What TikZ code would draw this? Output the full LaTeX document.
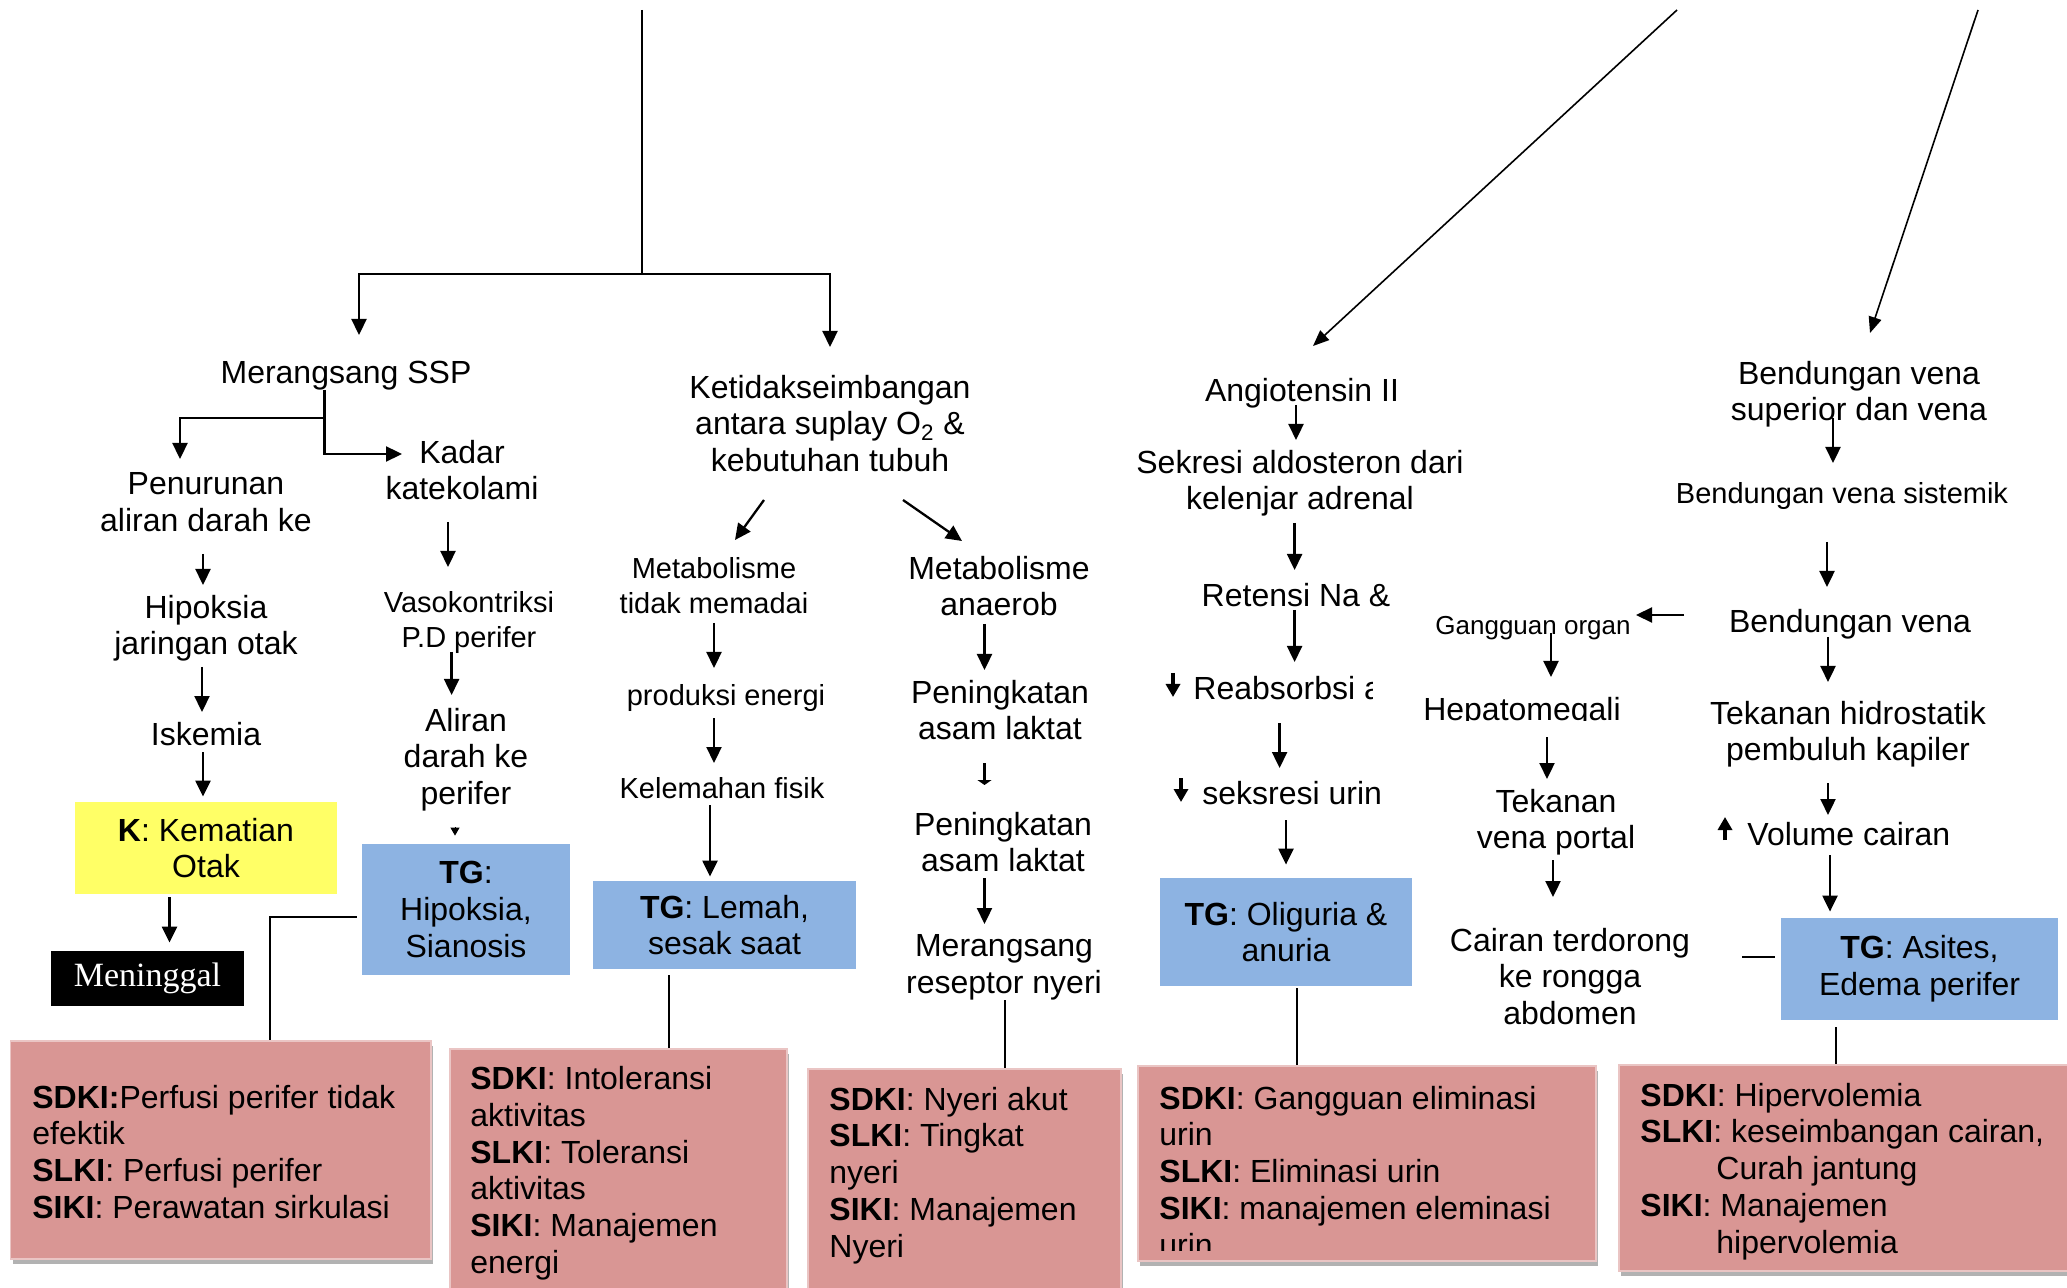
\documentclass[tikz,border=0pt]{standalone}
\usepackage{fontspec}
\setmainfont{Liberation Sans}
\newfontfamily\menfont{Liberation Serif}
\usetikzlibrary{arrows.meta,calc,shadows}
\definecolor{kyellow}{HTML}{FFFF66}
\definecolor{tgblue}{HTML}{8DB3E2}
\definecolor{sdpink}{HTML}{D99694}
\newcommand{\fmain}{\fontsize{16pt}{18.4pt}\selectfont}
\newcommand{\fsmall}{\fontsize{14.5pt}{17.5pt}\selectfont}
\newcommand{\ftiny}{\fontsize{13pt}{15pt}\selectfont}
\begin{document}
\begin{tikzpicture}[x=0.5pt,y=-0.5pt,
  txt/.style={font=\fmain, align=center, inner sep=0pt, anchor=north},
  stxt/.style={font=\fsmall, align=center, inner sep=0pt, anchor=north},
  ttxt/.style={font=\ftiny, align=center, inner sep=0pt, anchor=north},
  tgbox/.style={fill=tgblue, inner sep=0pt, font=\fmain, align=center},
  kboxst/.style={fill=kyellow, inner sep=0pt, font=\fmain, align=center, minimum width=131pt, minimum height=46pt},
  menbox/.style={fill=black, text=white, inner sep=0pt, font={\menfont\fontsize{17pt}{19pt}\selectfont}, minimum width=96.5pt, minimum height=27.5pt},
  sdbox/.style={fill=sdpink, draw=sdpink!55!white, line width=0.6pt, inner sep=0pt,
     drop shadow={shadow xshift=1pt, shadow yshift=-2.5pt, fill=black, opacity=0.3}},
  sdtxt/.style={font=\fmain, align=left, inner sep=0pt, anchor=north west},
  arr/.style={line width=1.15pt, -{Triangle[length=8pt,width=7.5pt]}},
  darr/.style={line width=0.8pt, -{Triangle[length=8pt,width=6.5pt]}},
  tinyarr/.style={line width=0.5pt, -{Triangle[length=4pt,width=4.5pt]}},
  stubarr/.style={line width=1.15pt, -{Triangle[length=2.5pt,width=7pt]}},
  glyph/.style={line width=1.6pt, -{Triangle[length=6.5pt,width=7pt]}},
  ln/.style={line width=0.7pt},
  ln2/.style={line width=0.8pt}
]
\useasboundingbox (0,0) rectangle (2067,1288);
\fill[white] (0,0) rectangle (2067,1288);

% ---------- Column 1 ----------
\node[txt] (ssp) at (346,360.5) {Merangsang SSP};
\node[txt] (kadar) at (462,439.5) {Kadar\\katekolami};
\node[txt] (penurunan) at (206,472.5) {Penurunan\\aliran darah ke};
\node[txt] (hipoksia) at (206,594.5) {Hipoksia\\jaringan otak};
\node[txt] (iskemia) at (206,721.5) {Iskemia};
\node[kboxst] (kbox) at (206,848) {\textbf{K}: Kematian\\Otak};
\node[menbox] (men) at (147.5,978.5) {Meninggal};
\node[stxt] (vaso) at (469,591.5) {Vasokontriksi\\P.D perifer};
\node[txt] (aliran) at (466,707.5) {Aliran\\darah ke\\perifer};
\node[tgbox, minimum width=104pt, minimum height=65.5pt] (tg1) at (466,909.5) {\textbf{TG}:\\Hipoksia,\\Sianosis};

% ---------- Column 3 ----------
\node[txt] (keti) at (830,374.5) {Ketidakseimbangan\\antara suplay O\textsubscript{2} \&\\kebutuhan tubuh};
\node[stxt] (meta1) at (714,557.5) {Metabolisme\\tidak memadai};
\node[stxt] (prod) at (726,684.5) {produksi energi};
\node[stxt] (kelem) at (722,777.5) {Kelemahan fisik};
\node[tgbox, minimum width=131.5pt, minimum height=44pt] (tg2) at (724.5,925) {\textbf{TG}: Lemah,\\sesak saat};

% ---------- Column 4 ----------
\node[txt] (meta2) at (999,555.5) {Metabolisme\\anaerob};
\node[txt] (pen1) at (1000,679.5) {Peningkatan\\asam laktat};
\node[txt] (pen2) at (1003,811.5) {Peningkatan\\asam laktat};
\node[txt] (meran) at (1004,934.5) {Merangsang\\reseptor nyeri};

% ---------- Column 5 ----------
\node[txt] (angio) at (1302,378) {Angiotensin II};
\node[txt] (sekresi) at (1300,449.5) {Sekresi aldosteron dari\\kelenjar adrenal};
\node[txt] (retensi) at (1296,582.5) {Retensi Na \&};
\begin{scope}
\clip (1150,640) rectangle (1372,720);
\node[txt, anchor=north west] (reab) at (1193,675.5) {Reabsorbsi air};
\end{scope}
\node[txt, anchor=north west] (seks) at (1202,780.5) {seksresi urin};
\node[tgbox, minimum width=126pt, minimum height=54pt] (tg3) at (1286,932) {\textbf{TG}: Oliguria \&\\anuria};

% ---------- Column 6 ----------
\node[ttxt] (gang) at (1533,615.5) {Gangguan organ};
\begin{scope}
\clip (1400,680) rectangle (1650,720.5);
\node[txt] (hepa) at (1522,697) {Hepatomegali};
\end{scope}
\node[txt] (tekv) at (1556,788.5) {Tekanan\\vena portal};
\node[txt] (cairan) at (1570,927.5) {Cairan terdorong\\ke rongga\\abdomen};

% ---------- Column 7 ----------
\node[txt] (bend1) at (1859,360.5) {Bendungan vena\\superior dan vena};
\node[stxt] (sist) at (1842,482.5) {Bendungan vena sistemik};
\node[txt] (bend2) at (1850,608.5) {Bendungan vena};
\node[txt] (tekh) at (1848,700.5) {Tekanan hidrostatik\\pembuluh kapiler};
\node[txt, anchor=north west] (vol) at (1747,821.5) {Volume cairan};
\node[tgbox, minimum width=138.5pt, minimum height=51pt] (tg5) at (1919.5,969) {\textbf{TG}: Asites,\\Edema perifer};

% ---------- SDKI boxes ----------
\node[sdbox, minimum width=210.25pt, minimum height=109pt] (sdki1) at (220.75,1150) {};
\node[sdtxt] (sdki1t) at (32,1084.5) {\textbf{SDKI:}Perfusi perifer tidak\\efektik\\\textbf{SLKI}: Perfusi perifer\\\textbf{SIKI}: Perawatan sirkulasi};
\node[sdbox, minimum width=168.5pt, minimum height=130.5pt] (sdki2) at (618.5,1179.5) {};
\node[sdtxt] (sdki2t) at (470,1066) {\textbf{SDKI}: Intoleransi\\aktivitas\\\textbf{SLKI}: Toleransi\\aktivitas\\\textbf{SIKI}: Manajemen\\energi};
\node[sdbox, minimum width=156.5pt, minimum height=120.5pt] (sdki3) at (964.5,1189.5) {};
\node[sdtxt] (sdki3t) at (829,1086.5) {\textbf{SDKI}: Nyeri akut\\\textbf{SLKI}: Tingkat\\nyeri\\\textbf{SIKI}: Manajemen\\Nyeri};
\node[sdbox, minimum width=229pt, minimum height=97.5pt] (sdki4) at (1367,1163.5) {};
\begin{scope}
\clip (1138,1066) rectangle (1596,1250);
\node[sdtxt] (sdki4t) at (1159,1085.5) {\textbf{SDKI}: Gangguan eliminasi\\urin\\\textbf{SLKI}: Eliminasi urin\\\textbf{SIKI}: manajemen eleminasi\\urin};
\end{scope}
\node[sdbox, minimum width=228pt, minimum height=103pt] (sdki5) at (1847,1168) {};
\node[sdtxt] (sdki5t) at (1640,1082.5) {\textbf{SDKI}: Hipervolemia\\\textbf{SLKI}: keseimbangan cairan,\\\hspace*{38pt}Curah jantung\\\textbf{SIKI}: Manajemen\\\hspace*{38pt}hipervolemia};

% ---------- Connectors ----------
\coordinate (topA) at (642,10);
\coordinate (jA) at (642,274);
\draw[ln2] (topA) -- (jA);
\draw[arr] (jA) -| ($(ssp.north)+(13,-25.5)$);
\draw[arr] (jA) -| ($(keti.north)+(0,-27.5)$);

\draw[arr] ($(ssp.north)+(-21.5,29.5)$) |- ($(kadar.north)+(-60,14.5)$);
\draw[arr] ($(ssp.north)+(-21.5,57.5)$) -| ($(penurunan.north)+(-26,-13.5)$);

\draw[arr] ($(kadar.north)+(-14,82.5)$) -- ($(vaso.north)+(-21,-24.5)$);
\draw[arr] ($(vaso.north)+(-17.4,60.5)$) -- ($(aliran.north)+(-14.4,-12.5)$);
\draw[tinyarr] ($(aliran.north)+(-11,119.5)$) -- ($(tg1.north)+(-11,-8)$);
\draw[ln] ($(tg1.west)+(-5,7.5)$) -| ($(sdki1.north)+(49.25,0)$);

\draw[arr] ($(penurunan.north)+(-3,81.5)$) -- ($(hipoksia.north)+(-3,-9.5)$);
\draw[arr] ($(hipoksia.north)+(-4,72.5)$) -- ($(iskemia.north)+(-4,-9.5)$);
\draw[arr] ($(iskemia.north)+(-3,30.5)$) -- ($(kbox.north)+(-3,-5)$);
\draw[arr] ($(kbox.south)+(-36.5,3)$) -- ($(men.north)+(22,-8)$);

\draw[arr] ($(keti.north)+(-66,125.5)$) -- ($(meta1.north)+(21,-17.5)$);
\draw[arr] ($(keti.north)+(73,125.5)$) -- ($(meta2.north)+(-37,-14.5)$);
\draw[arr] ($(meta1.north)+(0,65.5)$) -- ($(prod.north)+(-12,-16.5)$);
\draw[arr] ($(prod.north)+(-12,33.5)$) -- ($(kelem.north)+(-8,-14.5)$);
\draw[arr] ($(kelem.north)+(-12,27.5)$) -- ($(tg2.north)+(-14.5,-4)$);
\draw[ln] ($(tg2.south)+(-55.5,6)$) -- ($(sdki2.north)+(50.5,0)$);

\draw[arr] ($(meta2.north)+(-14.5,68.5)$) -- ($(pen1.north)+(-15.5,-9.5)$);
\draw[stubarr] ($(pen1.north)+(-15.5,83.5)$) -- ($(pen2.north)+(-18.5,-26.5)$);
\draw[arr] ($(pen2.north)+(-18.5,66.5)$) -- ($(meran.north)+(-19.5,-10.5)$);
\draw[ln] ($(meran.north)+(1,65.5)$) -- ($(sdki3.north)+(40.5,0)$);

\coordinate (topB) at (1677,10);
\draw[darr] (topB) -- ($(angio.north)+(11,-32)$);
\draw[arr] ($(angio.north)+(-6,27)$) -- ($(sekresi.north)+(-4,-9.5)$);
\draw[arr] ($(sekresi.north)+(-5.4,73.5)$) -- ($(retensi.north)+(-1.4,-12.5)$);
\draw[arr] ($(retensi.north)+(-1.4,27.5)$) -- ($(reab.north west)+(101.6,-13.5)$);
\draw[arr] ($(reab.north west)+(86.6,47.5)$) -- ($(seks.north west)+(77.6,-12.5)$);
\draw[arr] ($(seks.north west)+(84,39.5)$) -- ($(tg3.north)+(0,-13)$);
\draw[ln] ($(tg3.south)+(11,2)$) -- ($(sdki4.north)+(-70,0)$);
\draw[glyph] ($(reab.north west)+(-20,-2.5)$) -- ($(reab.north west)+(-20,21.5)$);
\draw[glyph] ($(seks.north west)+(-21,-2.5)$) -- ($(seks.north west)+(-21,21.5)$);
\draw[glyph] ($(vol.north west)+(-22,18.5)$) -- ($(vol.north west)+(-22,-4.5)$);

\draw[arr] ($(bend2.north)+(-166,6.5)$) -- ($(gang.north)+(103,-0.5)$);
\draw[arr] ($(gang.north)+(18,17.5)$) -- ($(hepa.north)+(29,-20)$);
\draw[arr] ($(hepa.north)+(25,40)$) -- ($(tekv.north)+(-9,-9.5)$);
\draw[arr] ($(tekv.north)+(-3,71.5)$) -- ($(cairan.north)+(-17,-30.5)$);

\coordinate (topC) at (1978,10);
\draw[darr] (topC) -- ($(bend1.north)+(11,-27.5)$);
\draw[arr] ($(bend1.north)+(-26,57.5)$) -- ($(sist.north)+(-9,-19.5)$);
\draw[arr] ($(sist.north)+(-15,59.5)$) -- ($(bend2.north)+(-23,-21.5)$);
\draw[arr] ($(bend2.north)+(-22,28.5)$) -- ($(tekh.north)+(-20,-18.5)$);
\draw[arr] ($(tekh.north)+(-20,82.5)$) -- ($(vol.north west)+(81,-6.5)$);
\draw[arr] ($(vol.north west)+(83,33.5)$) -- ($(tg5.north)+(-89.5,-6)$);
\draw[ln] ($(tg5.west)+(-6,-12)$) -- ($(tg5.west)+(-39,-12)$);
\draw[ln] ($(tg5.south)+(-83.5,7)$) -- ($(sdki5.north)+(-11,0)$);
\end{tikzpicture}
\end{document}
